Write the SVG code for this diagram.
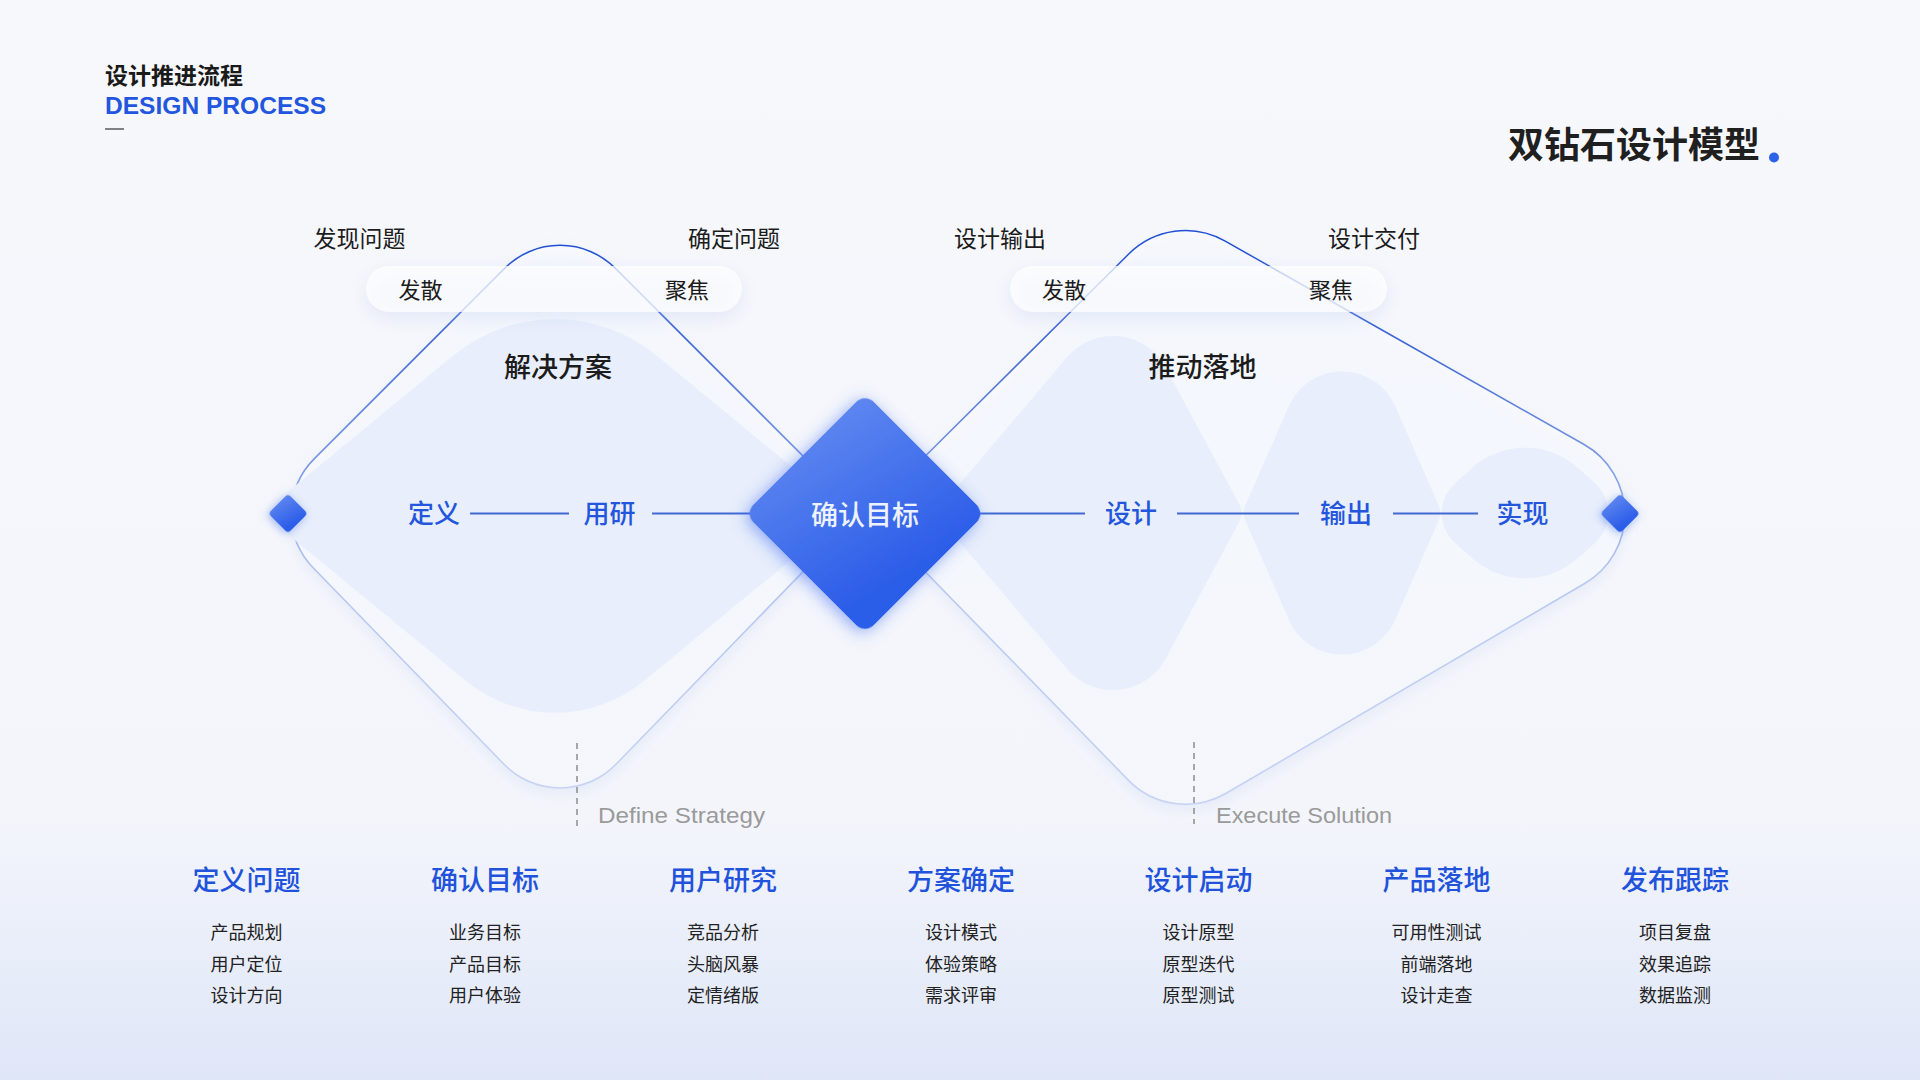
<svg xmlns="http://www.w3.org/2000/svg" width="1920" height="1080" viewBox="0 0 1920 1080">
<defs>
  <linearGradient id="bg" x1="0" y1="0" x2="0" y2="1">
    <stop offset="0" stop-color="#f7f8fc"/>
    <stop offset="0.76" stop-color="#f3f5fb"/>
    <stop offset="1" stop-color="#dfe6f8"/>
  </linearGradient>
  <linearGradient id="gDia" x1="0" y1="0" x2="1" y2="0.25">
    <stop offset="0" stop-color="#5d86f0"/>
    <stop offset="1" stop-color="#2c5de8"/>
  </linearGradient>
  <linearGradient id="strokeL" gradientUnits="userSpaceOnUse" x1="0" y1="240" x2="0" y2="800">
    <stop offset="0" stop-color="#1f4fd5"/>
    <stop offset="0.15" stop-color="#3e67d8"/>
    <stop offset="0.45" stop-color="#88a3e8"/>
    <stop offset="0.6" stop-color="#b5c6f0"/>
    <stop offset="1" stop-color="#c6d3f4"/>
  </linearGradient>
  <linearGradient id="strokeR" gradientUnits="userSpaceOnUse" x1="0" y1="230" x2="0" y2="810">
    <stop offset="0" stop-color="#1f4fd5"/>
    <stop offset="0.2" stop-color="#3e66d6"/>
    <stop offset="0.42" stop-color="#839fe5"/>
    <stop offset="0.6" stop-color="#b8c8f0"/>
    <stop offset="1" stop-color="#c6d3f4"/>
  </linearGradient>
  <filter id="glow" x="-40%" y="-40%" width="180%" height="180%">
    <feDropShadow dx="0" dy="4" stdDeviation="8" flood-color="#3d6df2" flood-opacity="0.55"/>
  </filter>
  <filter id="glowS" x="-60%" y="-60%" width="220%" height="220%">
    <feDropShadow dx="0" dy="2" stdDeviation="4" flood-color="#3d6df2" flood-opacity="0.5"/>
  </filter>
  <filter id="pillShadow" x="-20%" y="-80%" width="140%" height="260%">
    <feDropShadow dx="0" dy="6" stdDeviation="9" flood-color="#b9c8ee" flood-opacity="0.45"/>
  </filter>
  <filter id="lineShadow" x="-10%" y="-10%" width="120%" height="130%">
    <feDropShadow dx="0" dy="6" stdDeviation="6" flood-color="#a9bbe8" flood-opacity="0.25"/>
  </filter>
  <style>
    .cjk{font-family:"Noto Sans CJK SC","Noto Sans",sans-serif;}
    .top{font-size:23px;fill:#1c1c1c;text-anchor:middle;}
    .pill{font-size:22px;fill:#1c1c1c;text-anchor:middle;}
    .head{font-size:27px;fill:#1c1c1c;text-anchor:middle;font-weight:500;}
    .step{font-size:26px;fill:#2356dc;text-anchor:middle;font-weight:500;}
    .colT{font-size:27px;fill:#2152dc;text-anchor:middle;font-weight:500;}
    .colI{font-size:18px;fill:#222;text-anchor:middle;}
    .en{font-family:"Liberation Sans","Noto Sans",sans-serif;font-size:22px;fill:#9a9a9a;}
    .fillShape{fill:#e8eefb;}
    .outline{fill:#fafbff;fill-opacity:0.6;stroke-width:1.6;}
    .seg{stroke:#4169d6;stroke-width:2;}
    .dash{stroke:#8c8c8c;stroke-width:1.5;stroke-dasharray:6 5;}
    .pillBox{fill:#ffffff;fill-opacity:0.72;}
  </style>
</defs>

<rect width="1920" height="1080" fill="url(#bg)"/>

<g id="header">
  <text class="cjk" x="105" y="83.5" font-size="23" font-weight="700" fill="#1a1a1a">设计推进流程</text>
  <text x="105" y="114" font-family="Liberation Sans, sans-serif" font-size="24" font-weight="700" fill="#2356de" textLength="221" lengthAdjust="spacingAndGlyphs">DESIGN PROCESS</text>
  <line x1="105" y1="129" x2="124" y2="129" stroke="#333" stroke-width="1.2"/>
</g>

<g id="title">
  <text class="cjk" x="1508" y="157.5" font-size="36" font-weight="700" fill="#1f1f1f">双钻石设计模型</text>
  <circle cx="1774" cy="157.5" r="5" fill="#2f62ea"/>
</g>

<g id="outlines" filter="url(#lineShadow)">
  <path id="outline-left" class="outline" stroke="url(#strokeL)" d="M 860 513 L 615.15 268.15 A 78 78 0 0 0 504.85 268.15 L 314.4 458.6 A 78 78 0 0 0 313.6 568.2 L 504 764.3 A 78 78 0 0 0 616 764.3 Z"/>
  <path id="outline-right" class="outline" stroke="url(#strokeR)" d="M 868 513 L 1129 253.7 A 80 80 0 0 1 1224.8 240.9 L 1584.1 444.5 A 80 80 0 0 1 1585.1 583.2 L 1226.1 793.3 A 80 80 0 0 1 1128.3 780.1 Z"/>
</g>

<g id="fills">
  <path id="fill-solution" class="fillShape" d="M 290.2 536.2 A 30 30 0 0 1 290.2 489.8 L 453.4 355.5 A 160 160 0 0 1 656.6 355.5 L 819.8 489.8 A 30 30 0 0 1 819.8 536.2 L 643.9 680.9 A 140 140 0 0 1 466.1 680.9 Z"/>
  <path id="fill-design" class="fillShape" d="M 935 513 L 1067.1 357.1 A 60 60 0 0 1 1165.7 367.5 L 1238.9 503.5 A 20 20 0 0 1 1238.9 522.5 L 1165.7 658.5 A 60 60 0 0 1 1067.1 668.9 Z"/>
  <path id="fill-output" class="fillShape" d="M 1245.5 521 A 20 20 0 0 1 1245.5 505 L 1288.9 406.1 A 58 58 0 0 1 1395.1 406.1 L 1438.5 505 A 20 20 0 0 1 1438.5 521 L 1395.1 619.9 A 58 58 0 0 1 1288.9 619.9 Z"/>
  <path id="fill-implement" class="fillShape" d="M 1454.9 542.7 A 40 40 0 0 1 1454.9 483.3 L 1471.4 468.4 A 80 80 0 0 1 1578.6 468.4 L 1595.1 483.3 A 40 40 0 0 1 1595.1 542.7 L 1578.6 557.6 A 80 80 0 0 1 1471.4 557.6 Z"/>
</g>

<g id="pills">
  <g id="pill-left">
    <rect class="pillBox" x="366" y="266" width="376" height="46" rx="23" filter="url(#pillShadow)"/>
    <text class="cjk pill" x="420.5" y="297.5">发散</text>
    <text class="cjk pill" x="687" y="297.5">聚焦</text>
  </g>
  <g id="pill-right">
    <rect class="pillBox" x="1010" y="266" width="377" height="46" rx="23" filter="url(#pillShadow)"/>
    <text class="cjk pill" x="1064" y="297.5">发散</text>
    <text class="cjk pill" x="1331" y="297.5">聚焦</text>
  </g>
</g>

<g id="top-labels">
  <text class="cjk top" x="359.5" y="246.5">发现问题</text>
  <text class="cjk top" x="734" y="246.5">确定问题</text>
  <text class="cjk top" x="1000" y="246.5">设计输出</text>
  <text class="cjk top" x="1374" y="246.5">设计交付</text>
  <text class="cjk head" x="558" y="377">解决方案</text>
  <text class="cjk head" x="1202.5" y="377">推动落地</text>
</g>

<g id="connectors">
  <line class="seg" x1="470" y1="513.5" x2="569" y2="513.5"/>
  <line class="seg" x1="652" y1="513.5" x2="770" y2="513.5"/>
  <line class="seg" x1="960" y1="513.5" x2="1085" y2="513.5"/>
  <line class="seg" x1="1177" y1="513.5" x2="1299" y2="513.5"/>
  <line class="seg" x1="1393" y1="513.5" x2="1478" y2="513.5"/>
  <line class="dash" x1="577" y1="743" x2="577" y2="827"/>
  <line class="dash" x1="1194" y1="742" x2="1194" y2="824"/>
</g>

<g id="steps">
  <text class="cjk step" x="434" y="523">定义</text>
  <text class="cjk step" x="609.5" y="523">用研</text>
  <text class="cjk step" x="1131" y="523">设计</text>
  <text class="cjk step" x="1346" y="523">输出</text>
  <text class="cjk step" x="1522.5" y="523">实现</text>
</g>

<g id="node-start">
  <rect x="-14" y="-14" width="28" height="28" rx="4" fill="url(#gDia)" filter="url(#glowS)" transform="translate(288 513.5) rotate(45)"/>
</g>
<g id="node-end">
  <rect x="-14" y="-14" width="28" height="28" rx="4" fill="url(#gDia)" filter="url(#glowS)" transform="translate(1620 513.5) rotate(45)"/>
</g>
<g id="node-goal">
  <rect x="-85" y="-85" width="170" height="170" rx="12" fill="url(#gDia)" filter="url(#glow)" transform="translate(865 513.5) rotate(45)"/>
  <text class="cjk" x="865" y="525" font-size="27" font-weight="500" fill="#eef2ff" text-anchor="middle">确认目标</text>
</g>

<g id="phase-labels">
  <text class="en" x="598" y="823" textLength="167" lengthAdjust="spacingAndGlyphs">Define Strategy</text>
  <text class="en" x="1216" y="823" textLength="176" lengthAdjust="spacingAndGlyphs">Execute Solution</text>
</g>

<g id="col-1">
  <text class="cjk colT" x="246.5" y="890">定义问题</text>
  <text class="cjk colI" x="246.5" y="939">产品规划</text>
  <text class="cjk colI" x="246.5" y="971">用户定位</text>
  <text class="cjk colI" x="246.5" y="1002">设计方向</text>
</g>
<g id="col-2">
  <text class="cjk colT" x="485" y="890">确认目标</text>
  <text class="cjk colI" x="485" y="939">业务目标</text>
  <text class="cjk colI" x="485" y="971">产品目标</text>
  <text class="cjk colI" x="485" y="1002">用户体验</text>
</g>
<g id="col-3">
  <text class="cjk colT" x="723" y="890">用户研究</text>
  <text class="cjk colI" x="723" y="939">竞品分析</text>
  <text class="cjk colI" x="723" y="971">头脑风暴</text>
  <text class="cjk colI" x="723" y="1002">定情绪版</text>
</g>
<g id="col-4">
  <text class="cjk colT" x="961" y="890">方案确定</text>
  <text class="cjk colI" x="961" y="939">设计模式</text>
  <text class="cjk colI" x="961" y="971">体验策略</text>
  <text class="cjk colI" x="961" y="1002">需求评审</text>
</g>
<g id="col-5">
  <text class="cjk colT" x="1198.5" y="890">设计启动</text>
  <text class="cjk colI" x="1198.5" y="939">设计原型</text>
  <text class="cjk colI" x="1198.5" y="971">原型迭代</text>
  <text class="cjk colI" x="1198.5" y="1002">原型测试</text>
</g>
<g id="col-6">
  <text class="cjk colT" x="1436.5" y="890">产品落地</text>
  <text class="cjk colI" x="1436.5" y="939">可用性测试</text>
  <text class="cjk colI" x="1436.5" y="971">前端落地</text>
  <text class="cjk colI" x="1436.5" y="1002">设计走查</text>
</g>
<g id="col-7">
  <text class="cjk colT" x="1675" y="890">发布跟踪</text>
  <text class="cjk colI" x="1675" y="939">项目复盘</text>
  <text class="cjk colI" x="1675" y="971">效果追踪</text>
  <text class="cjk colI" x="1675" y="1002">数据监测</text>
</g>
</svg>
